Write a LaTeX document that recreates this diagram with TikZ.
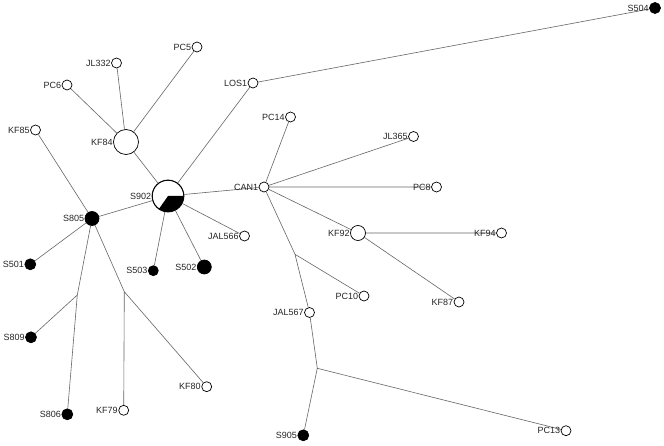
\documentclass[tikz,border=0pt]{standalone}
\usepackage{fontspec}
\setmainfont{Liberation Sans}
\usetikzlibrary{backgrounds}
\begin{document}
\begin{tikzpicture}[x=1pt,y=1pt,
  every label/.style={inner sep=0.4pt, font=\fontsize{9}{9}\selectfont, text=black!85},
  label distance=0pt,
  open/.style={circle, draw=black, fill=white, line width=0.7pt, inner sep=0pt, minimum size=10pt, label={[anchor=east]west:#1}},
  full/.style={circle, draw=black, fill=black, line width=0.7pt, inner sep=0pt, minimum size=11pt, label={[anchor=east]west:#1}},
  edge/.style={draw=black!60, line width=0.6pt}]
\useasboundingbox (0,0) rectangle (664,445);
% nodes
\node[full=S504] (S504) at (655,437) {};
\node[open=LOS1] (LOS1) at (253,362) {};
\node[open=PC5] (PC5) at (197,398) {};
\node[open=JL332] (JL332) at (116.5,382) {};
\node[open=PC6] (PC6) at (67,360) {};
\node[open=KF85] (KF85) at (35.5,315) {};
\node[open=KF84, minimum size=25pt] (KF84) at (126,303) {};
\node[open=S902, minimum size=32pt] (S902) at (168,249) {};
\node[open=CAN1] (CAN1) at (264,258) {};
\node[open=PC14] (PC14) at (290.5,328) {};
\node[open=JL365] (JL365) at (413.5,308.5) {};
\node[open=PC8] (PC8) at (436.5,258) {};
\node[open=KF92, minimum size=15pt] (KF92) at (358,212) {};
\node[open=KF94] (KF94) at (501.5,212) {};
\node[open=KF87] (KF87) at (459,143) {};
\node[open=PC10] (PC10) at (364,149) {};
\node[open=JAL567] (JAL567) at (309.5,132.5) {};
\node[open=JAL566] (JAL566) at (244.5,209) {};
\node[full=S502, minimum size=14pt] (S502) at (204.3,178) {};
\node[full=S503, minimum size=10pt] (S503) at (153.3,174.3) {};
\node[full=S805, minimum size=14pt] (S805) at (92,226.5) {};
\node[full=S501] (S501) at (30.3,180.7) {};
\node[full=S809] (S809) at (31,107.7) {};
\node[full=S806] (S806) at (67.3,30.7) {};
\node[open=KF79] (KF79) at (123.7,34.7) {};
\node[open=KF80] (KF80) at (206.7,58.3) {};
\node[full=S905] (S905) at (303.3,9.7) {};
\node[open=PC13] (PC13) at (566,14.3) {};
\coordinate (jA) at (77.3,150);
\coordinate (jB) at (124.3,153.3);
\coordinate (jC) at (317.3,76.7);
\coordinate (jD) at (295,190.7);
% pie sector of S902
\fill[black] (S902.center) -- ++(-125:15.6pt) arc[start angle=-125, end angle=0, radius=15.6pt] -- cycle;
\draw[black, line width=0.7pt] (S902.center) circle[radius=15.65pt];
% edges
\begin{scope}[on background layer]
\fill[white] (0,0) rectangle (664,445);
\path[edge] (S504) -- (LOS1) (LOS1) -- (S902) (KF84) -- (S902)
  (KF84) -- (PC5) (KF84) -- (JL332) (KF84) -- (PC6)
  (S902) -- (CAN1) (S902) -- (S805) (S902) -- (JAL566)
  (S902) -- (S502) (S902) -- (S503)
  (S805) -- (KF85) (S805) -- (S501)
  (S805) -- (jA) -- (S806) (jA) -- (S809)
  (S805) -- (jB) -- (KF79) (jB) -- (KF80)
  (CAN1) -- (PC14) (CAN1) -- (JL365) (CAN1) -- (PC8) (CAN1) -- (KF92)
  (KF92) -- (KF94) (KF92) -- (KF87)
  (CAN1) -- (jD) -- (JAL567) (jD) -- (PC10)
  (JAL567) -- (jC) -- (S905) (jC) -- (PC13);
\end{scope}
\end{tikzpicture}
\end{document}
